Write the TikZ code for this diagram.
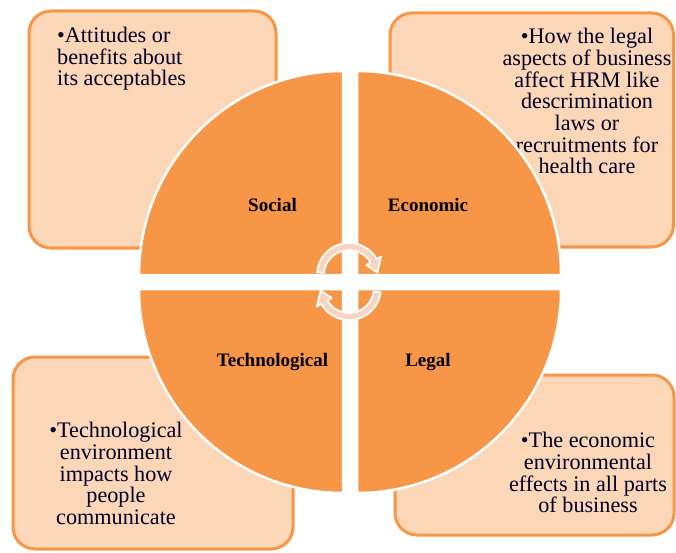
\documentclass[tikz,border=0pt]{standalone}
\usepackage{fontspec}
\setmainfont{Liberation Serif}
\definecolor{quad}{HTML}{F79646}
\definecolor{boxfill}{HTML}{FBD6B7}
\definecolor{arrfill}{HTML}{FAD3BE}
\tikzset{
  infobox/.style={draw=quad, fill=boxfill, line width=3pt, rounded corners=22pt},
  quadrant/.style={fill=quad, draw=white, line width=2.5pt},
  boxtext/.style={inner sep=0pt, font=\fontsize{22.2}{21.7}\selectfont, text=black!85!blue},
  label/.style={inner sep=0pt, font=\fontsize{19}{22}\selectfont\bfseries},
  cyclearrow/.style={fill=arrfill, draw=white, line width=1.8pt, line join=round}
}
\begin{document}
\begin{tikzpicture}[x=1pt,y=1pt]
\useasboundingbox (0,0) rectangle (676,552);
% boxes
\draw[infobox] (29,304) rectangle (276,541);
\draw[infobox] (390,305) rectangle (673.5,539);
\draw[infobox] (13,3) rectangle (293,195);
\draw[infobox] (395,17) rectangle (674,177);
% box texts
\node[boxtext, anchor=north west, align=left] (tsocial) at (57,525) {•Attitudes or\\benefits about\\its acceptables};
\node[boxtext, anchor=north, align=center] (teco) at (587,524) {•How the legal\\aspects of business\\affect HRM like\\descrimination\\laws or\\recruitments for\\health care};
\node[boxtext, anchor=north, align=center] (ttech) at (116,130) {•Technological\\environment\\impacts how\\people\\communicate};
\node[boxtext, anchor=north, align=center] (tlegal) at (588,120) {•The economic\\environmental\\effects in all parts\\of business};
% quadrants
\draw[quadrant] (343,277) -- (139,277) arc[start angle=180, end angle=90, radius=204] -- cycle;
\draw[quadrant] (357,277) -- (357,481) arc[start angle=90, end angle=0, radius=204] -- cycle;
\draw[quadrant] (343,263) -- (343,59) arc[start angle=270, end angle=180, radius=204] -- cycle;
\draw[quadrant] (357,263) -- (561,263) arc[start angle=0, end angle=-90, radius=204] -- cycle;
% labels
\node[label] (social) at (272.5,347) {Social};
\node[label] (economic) at (428,347) {Economic};
\node[label] (technological) at (272.5,190) {Technological};
\node[label] (legal) at (428,190) {Legal};
% cycle arrows
\begin{scope}[shift={(349,277)}]
\draw[cyclearrow] (175:32) arc[start angle=175, end angle=30, radius=32] -- (30:37) -- (5:28.5) -- (30:20) -- (30:25) arc[start angle=30, end angle=175, radius=25] -- cycle;
\end{scope}
\begin{scope}[shift={(349,264)}]
\draw[cyclearrow] (-8:32) arc[start angle=-8, end angle=-150, radius=32] -- (-150:37) -- (-175:28.5) -- (-150:20) -- (-150:25) arc[start angle=-150, end angle=-8, radius=25] -- cycle;
\end{scope}
\end{tikzpicture}
\end{document}
